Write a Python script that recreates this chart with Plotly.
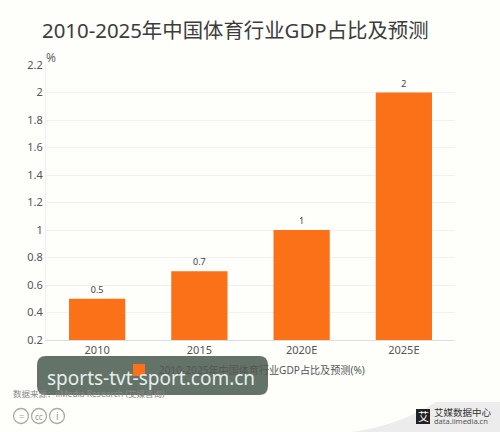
import plotly.graph_objects as go

categories = ["2010", "2015", "2020E", "2025E"]
values = [0.5, 0.7, 1, 2]
value_labels = ["0.5", "0.7", "1", "2"]
y_ticks = [0.2, 0.4, 0.6, 0.8, 1, 1.2, 1.4, 1.6, 1.8, 2, 2.2]
y_tick_labels = ["0.2", "0.4", "0.6", "0.8", "1", "1.2", "1.4", "1.6", "1.8", "2", "2.2"]
series_name = "2010-2025年中国体育行业GDP占比及预测(%)"
title_text = "2010-2025年中国体育行业GDP占比及预测"

W, H = 500, 432
L, R, T, B = 46, 45, 65, 92
FONT = "Noto Sans, Noto Sans CJK SC, sans-serif"

def px(x):
    return (x - L) / (W - L - R)

def py(y):
    return 1 - (y - T) / (H - T - B)

def note(x, y, text, size, color, anchor="left", **kw):
    return dict(xref="paper", yref="paper", x=px(x), y=py(y), text=text, showarrow=False,
                xanchor=anchor, yanchor="middle", font=dict(size=size, color=color, family=FONT), **kw)

def rrect(x0, y0, x1, y1, r):
    X0, X1 = px(x0), px(x1)
    Y0, Y1 = py(y0), py(y1)
    rx = r / (W - L - R)
    ry = r / (H - T - B)
    return (f"M{X0+rx},{Y0} L{X1-rx},{Y0} Q{X1},{Y0} {X1},{Y0-ry} L{X1},{Y1+ry} Q{X1},{Y1} {X1-rx},{Y1} "
            f"L{X0+rx},{Y1} Q{X0},{Y1} {X0},{Y1+ry} L{X0},{Y0-ry} Q{X0},{Y0} {X0+rx},{Y0} Z")

fig = go.Figure(go.Bar(
    x=categories, y=values, name=series_name, width=0.55,
    marker=dict(color="#fb7118", line=dict(width=0)),
    text=value_labels, textposition="outside", cliponaxis=False,
    textfont=dict(size=9, color="#444", family=FONT),
    showlegend=True,
))

shapes = [
    dict(type="path", xref="paper", yref="paper", layer="below", line=dict(width=0), fillcolor="#ececec",
         path=f"M{px(352)},{py(432)} Q{px(400)},{py(425)} {px(436)},{py(402)} L{px(500)},{py(402)} L{px(500)},{py(432)} Z"),
    dict(type="rect", xref="paper", yref="paper", x0=px(416), x1=px(430), y0=py(409), y1=py(424),
         fillcolor="#222", line=dict(width=0)),
    dict(type="path", xref="paper", yref="paper", layer="above", line=dict(width=0),
         fillcolor="rgba(78,96,82,0.88)", path=rrect(37, 356, 268, 395, 9)),
]
for cx in (21, 39, 57):
    shapes.append(dict(type="circle", xref="paper", yref="paper", x0=px(cx - 7.5), x1=px(cx + 7.5),
                       y0=py(423.5), y1=py(408.5), line=dict(color="#aaa", width=1.3)))

annotations = [
    note(235.5, 30, title_text, 20.4, "#3c3c3c", "center"),
    note(44, 57, "%", 12, "#666"),
    note(11, 393.5, "数据来源：iiMedia Research (艾媒咨询)", 8.5, "#888"),
    note(151, 378, "sports-tvt-sport.com.cn", 19, "#e6eeee", "center"),
    note(21, 416, "=", 9, "#999", "center"),
    note(39, 416, "cc", 8, "#999", "center"),
    note(57, 416, "i", 10, "#999", "center"),
    note(423, 416.5, "艾", 11, "#fff", "center"),
    note(432, 412, "艾媒数据中心", 9.5, "#333"),
    note(432, 421, "data.iimedia.cn", 7.5, "#555"),
]

fig.update_layout(
    width=W, height=H, autosize=False,
    margin=dict(l=L, r=R, t=T, b=B),
    paper_bgcolor="#fefefb", plot_bgcolor="#fefefb",
    font=dict(family=FONT, color="#555", size=12),
    bargap=0.45,
    shapes=shapes, annotations=annotations,
    legend=dict(orientation="h", x=px(244.5), xanchor="center", y=py(370), yanchor="middle",
                bgcolor="rgba(0,0,0,0)", font=dict(size=10.1, color="#555", family=FONT),
                itemsizing="constant"),
    xaxis=dict(type="category", categoryorder="array", categoryarray=categories,
               showline=True, linecolor="#dddddd", linewidth=1, ticks="", showgrid=False,
               tickfont=dict(size=11, color="#555")),
    yaxis=dict(range=[0.2, 2.2], tickvals=y_ticks, ticktext=y_tick_labels, showline=True,
               linecolor="#efefef", gridcolor="#f1f1f1", gridwidth=1, zeroline=False, ticks="",
               tickfont=dict(size=11, color="#555")),
)

fig.write_html("out.html", config={"displayModeBar": False},
               post_script="document.body.style.margin='0';document.body.style.background='#fefefb';")
